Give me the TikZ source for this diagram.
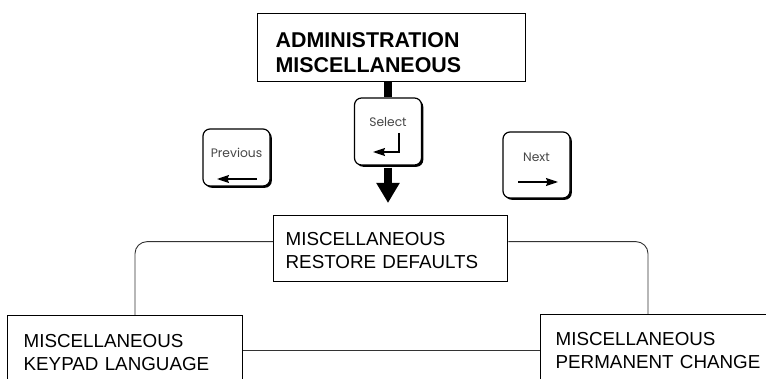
\documentclass[tikz,border=0pt]{standalone}
\usepackage{fontspec}
\setmainfont{Liberation Sans}
\newfontfamily\keyfont{Poppins}
\usetikzlibrary{arrows.meta,calc,shadows}
\begin{document}
\begin{tikzpicture}[x=1pt,y=-1pt,
  box/.style={draw=black, line width=1.3pt, fill=white, inner ysep=0pt, align=left, anchor=north west, font=\fontsize{18.8}{23}\selectfont},
  boldbox/.style={box, font=\fontsize{21.4}{25}\selectfont\bfseries},
  keybox/.style={draw=black, line width=1.2pt, fill=white, rounded corners=7pt, inner sep=0pt,
     drop shadow={shadow xshift=1.8pt, shadow yshift=-1.8pt, opacity=1, fill=black}},
  keytext/.style={font=\keyfont\fontsize{12.3}{14}\selectfont, text=black!72, inner sep=0pt},
  keyarrow/.style={line width=1.2pt, -{Stealth[length=12pt,width=8pt,inset=1.5pt]}},
  conn/.style={draw=black!80, line width=0.9pt},
  thick/.style={line width=8pt, draw=black}
]
\useasboundingbox (0,0) rectangle (766,379);
\clip (0,0) rectangle (766,379);

% boxes
\node[boldbox, minimum width=268pt, text width=232pt, inner xsep=18pt, text height=34pt, text depth=34pt] (top) at (257,13) {ADMINISTRATION\\MISCELLANEOUS};
\node[box, minimum width=234pt, text width=210pt, inner xsep=12pt, text height=30pt, text depth=36pt] (mid) at (273,215) {MISCELLANEOUS\\RESTORE DEFAULTS};
\node[box, minimum width=235pt, text width=203pt, inner xsep=16pt, text height=32pt, text depth=60pt] (kl) at (7,315) {MISCELLANEOUS\\KEYPAD LANGUAGE};
\node[box, minimum width=280pt, text width=250pt, inner xsep=15pt, text height=31pt, text depth=60pt] (pc) at (540,314) {MISCELLANEOUS\\PERMANENT CHANGE};

% keys
\node[keybox, minimum width=67pt, minimum height=57pt] (prev) at (236.5,157.5) {};
\node[keybox, minimum width=67pt, minimum height=67pt] (sel) at (388,131.5) {};
\node[keybox, minimum width=67pt, minimum height=66pt] (next) at (536.5,165) {};

\node[keytext] (prevt) at ($(prev.center)+(0,-4.5)$) {Previous};
\node[keytext] (selt) at ($(sel.center)+(0,-9.5)$) {Select};
\node[keytext] (nextt) at ($(next.center)+(0,-8)$) {Next};

\coordinate (pa1) at ($(prev.center)+(20.5,21.5)$);
\coordinate (pa2) at ($(prev.center)+(-19.5,21.5)$);
\draw[keyarrow] (pa1) -- (pa2);
\coordinate (na1) at ($(next.center)+(-18.5,17)$);
\coordinate (na2) at ($(next.center)+(21.5,17)$);
\draw[keyarrow] (na1) -- (na2);
\coordinate (sa1) at ($(sel.center)+(11,1.5)$);
\coordinate (sa2) at ($(sel.center)+(-15,20.5)$);
\draw[keyarrow] (sa1) |- (sa2);

% thick flow
\draw[thick] (top.south -| sel.north) -- (sel.north);
\draw[thick, -{Triangle[length=20pt,width=22pt]}, shorten >=12pt] ([yshift=-2pt]sel.south) -- (sel.south |- mid.north);

% connectors
\coordinate (ml) at ($(mid.west)+(0,-7)$);
\coordinate (mr) at ($(mid.east)+(0,-7)$);
\coordinate (klt) at ($(kl.north west)+(128,0)$);
\coordinate (pct) at ($(pc.north west)+(108,0)$);
\draw[conn, rounded corners=12pt] (ml) -| (klt);
\draw[conn, rounded corners=12pt] (mr) -| (pct);
\draw[conn] ($(kl.north east)+(0,35)$) -- ($(pc.north west)+(0,36)$);
\end{tikzpicture}
\end{document}
